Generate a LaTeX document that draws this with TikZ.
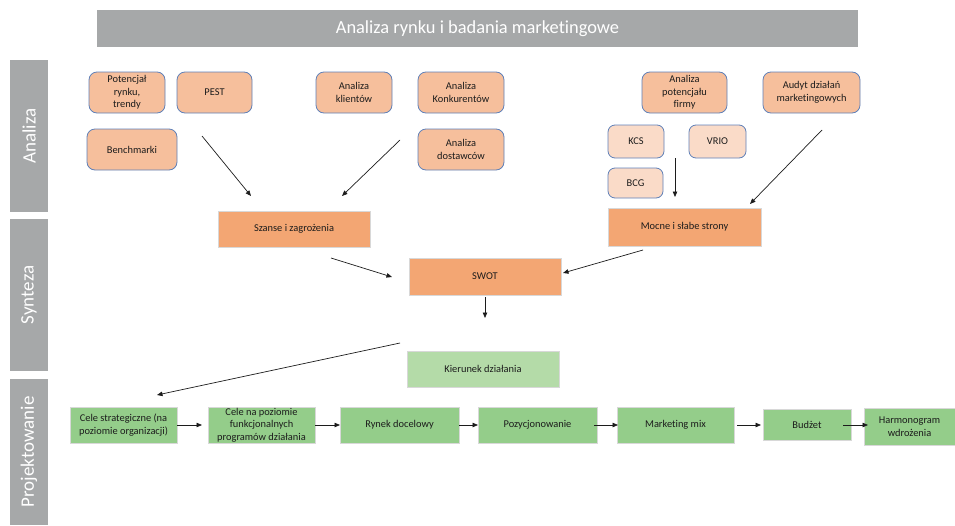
\documentclass[tikz,border=0pt]{standalone}
\usepackage{fontspec}
\setmainfont{Carlito}[Ligatures={NoCommon}]
\usetikzlibrary{arrows.meta}
\definecolor{bargray}{HTML}{A6A8A9}
\definecolor{peach}{HTML}{F6BF9C}
\definecolor{peachlight}{HTML}{FADBC8}
\definecolor{orangebox}{HTML}{F3A673}
\definecolor{greenbox}{HTML}{94CD8A}
\definecolor{greenlight}{HTML}{B4DBA8}
\definecolor{blueedge}{HTML}{5F80B8}
\definecolor{paleedge}{HTML}{D8D8D8}
\definecolor{ink}{HTML}{1C1C1C}
\tikzset{
  every node/.style={inner sep=1pt, align=center, text=ink, font=\fontsize{10.4}{12.5}\selectfont},
  barbox/.style={fill=bargray, draw=none},
  sidelabel/.style={rotate=90, text=white, font=\fontsize{19}{21}\selectfont},
  rbox/.style={draw=blueedge, line width=0.8pt, fill=peach, rounded corners=8pt},
  rboxlight/.style={rbox, fill=peachlight},
  obox/.style={draw=paleedge, line width=0.8pt, fill=orangebox},
  gbox/.style={draw=paleedge, line width=0.8pt, fill=greenbox},
  glbox/.style={draw=paleedge, line width=0.8pt, fill=greenlight},
  arr/.style={line width=0.7pt, draw=ink, -{Triangle[length=5.5pt,width=4.5pt]}},
}
\begin{document}
\begin{tikzpicture}[x=1pt,y=-1pt]
\useasboundingbox (0,0) rectangle (955,525);

% header bar
\node[barbox, minimum width=761pt, minimum height=37pt, text=white,
      font=\fontsize{18.4}{20}\selectfont] (title) at (477.5,28.5)
      {Analiza rynku i badania marketingowe};

% side bars for the three stages
\node[barbox, minimum width=38pt, minimum height=152pt] (barA) at (29,136) {};
\node[barbox, minimum width=38pt, minimum height=152pt] (barS) at (29,295) {};
\node[barbox, minimum width=38pt, minimum height=146pt] (barP) at (29,452) {};
\node[sidelabel] (labA) at (barA) {Analiza};
\node[sidelabel] (labS) at (barS) {Synteza};
\node[sidelabel] (labP) at (barP) {Projektowanie};

% analysis inputs
\node[rbox, minimum width=76pt, minimum height=41pt] (pot) at (127,92.5) {Potencjał\\rynku,\\trendy};
\node[rbox, minimum width=75pt, minimum height=41pt] (pest) at (214.5,92.5) {PEST};
\node[rbox, minimum width=90pt, minimum height=41pt] (bench) at (132,149.5) {Benchmarki};
\node[rbox, minimum width=76pt, minimum height=41pt] (kli) at (354,92.5) {Analiza\\klientów};
\node[rbox, minimum width=86pt, minimum height=41pt] (konk) at (461,92.5) {Analiza\\Konkurentów};
\node[rbox, minimum width=86pt, minimum height=41pt] (dost) at (461,149.5) {Analiza\\dostawców};
\node[rbox, minimum width=85pt, minimum height=41pt] (potf) at (684.5,92.5) {Analiza\\potencjału\\firmy};
\node[rbox, minimum width=97pt, minimum height=41pt] (audyt) at (811.5,92.5) {Audyt działań\\marketingowych};
\node[rboxlight, rounded corners=7pt, minimum width=56pt, minimum height=33pt] (kcs) at (636,141.5) {KCS};
\node[rboxlight, rounded corners=7pt, minimum width=57pt, minimum height=33pt] (vrio) at (717.5,141.5) {VRIO};
\node[rboxlight, rounded corners=7pt, minimum width=55pt, minimum height=30pt] (bcg) at (635.5,183) {BCG};

% synthesis
\node[obox, minimum width=152pt, minimum height=36pt] (szanse) at (294,229) {Szanse i zagrożenia};
\node[obox, minimum width=153pt, minimum height=38pt] (mocne) at (684.5,227) {Mocne i słabe strony};
\node[obox, minimum width=152pt, minimum height=37pt] (swot) at (485,276.5) {SWOT};
\node[glbox, minimum width=152pt, minimum height=36pt] (kier) at (483,369) {Kierunek działania};

% design chain
\node[gbox, minimum width=107pt, minimum height=36pt] (c1) at (123.5,425) {Cele strategiczne (na\\poziomie organizacji)};
\node[gbox, minimum width=107pt, minimum height=36pt] (c2) at (261.5,425) {Cele na poziomie\\funkcjonalnych\\programów działania};
\node[gbox, minimum width=119pt, minimum height=36pt] (c3) at (399.5,425) {Rynek docelowy};
\node[gbox, minimum width=119pt, minimum height=36pt] (c4) at (537.5,425) {Pozycjonowanie};
\node[gbox, minimum width=117pt, minimum height=36pt] (c5) at (675.5,425) {Marketing mix};
\node[gbox, minimum width=88pt, minimum height=31pt] (c6) at (807,424.5) {Budżet};
\node[gbox, minimum width=91pt, minimum height=37pt] (c7) at (909.5,426.5) {Harmonogram\\wdrożenia};

% free arrow ends
\coordinate (e1s) at (202,136);   \coordinate (e1e) at (251,196);
\coordinate (e2s) at (400,140);   \coordinate (e2e) at (342,196);
\coordinate (e3s) at (675,158);   \coordinate (e3e) at (675,197);
\coordinate (e4s) at (822,130);   \coordinate (e4e) at (750,204);
\coordinate (e5s) at (331,258);   \coordinate (e5e) at (392,277);
\coordinate (e6s) at (643,250);   \coordinate (e6e) at (563,273);
\coordinate (e7s) at (485,297);   \coordinate (e7e) at (485,318);
\coordinate (e8s) at (400,343);   \coordinate (e8e) at (157,395);
\coordinate (f1s) at (177,425);   \coordinate (f1e) at (202,425);
\coordinate (f2s) at (315,425);   \coordinate (f2e) at (340,425);
\coordinate (f3s) at (459,425);   \coordinate (f3e) at (478,425);
\coordinate (f4s) at (594,425);   \coordinate (f4e) at (618,425);
\coordinate (f5s) at (737,425);   \coordinate (f5e) at (761,425);
\coordinate (f6s) at (843,425);   \coordinate (f6e) at (868,425);

\foreach \a in {e1,e2,e3,e4,e5,e6,e7,e8,f1,f2,f3,f4,f5,f6}
  \draw[arr] (\a s) -- (\a e);
\end{tikzpicture}
\end{document}
